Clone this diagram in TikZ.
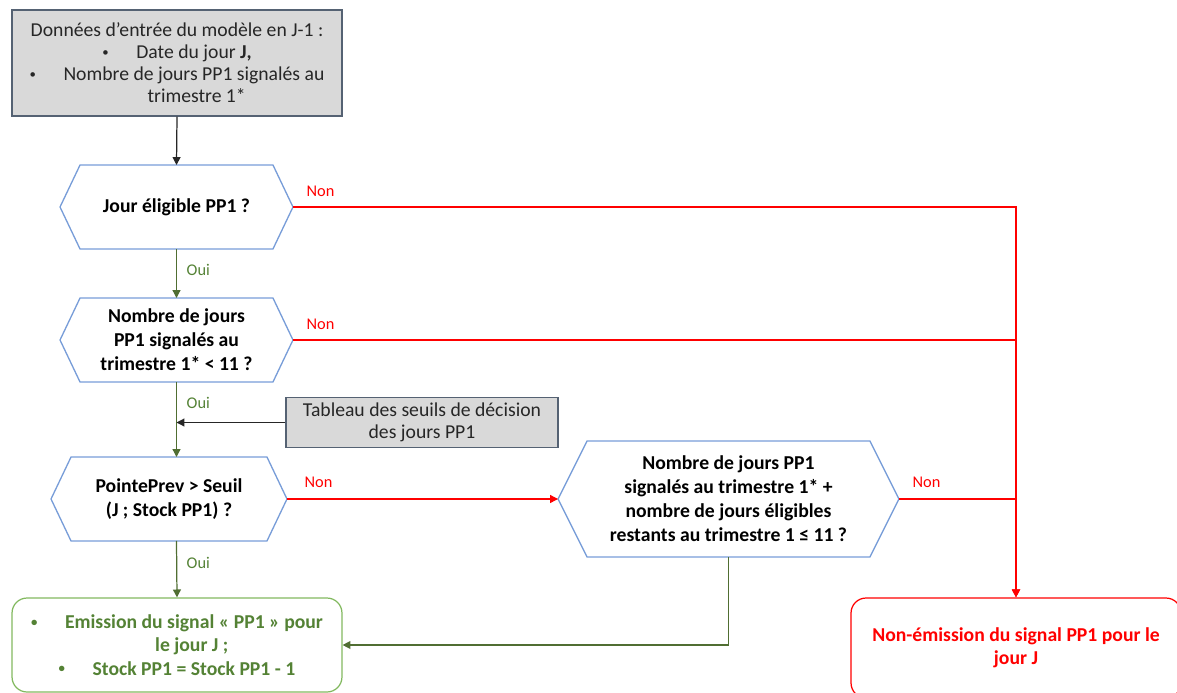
\documentclass[tikz,border=0pt]{standalone}
\usepackage{fontspec}
\setmainfont{Carlito}
\usetikzlibrary{arrows.meta,calc,positioning}
\definecolor{hxblue}{RGB}{120,157,216}
\definecolor{boxgray}{RGB}{217,217,217}
\definecolor{boxline}{RGB}{85,98,115}
\definecolor{okgreen}{RGB}{84,130,53}
\definecolor{okline}{RGB}{130,185,95}
\definecolor{arrgreen}{RGB}{80,110,50}
\definecolor{koRed}{RGB}{255,0,0}
\newcommand{\pbul}{\raisebox{0.12em}{\scalebox{0.65}{•}}}
\begin{document}
\begin{tikzpicture}[x=0.02cm, y=-0.02cm,
  gb/.style={draw=boxline, fill=boxgray, line width=0.7pt, align=center, text=black!85,
    font=\fontsize{11.2}{12.5}\selectfont},
  hx/.style={draw=none, outer sep=0pt, align=center, minimum width=4.66cm, minimum height=1.68cm,
    font=\bfseries\fontsize{11.2}{13.6}\selectfont},
  rb/.style={draw, rounded corners=0.3cm, line width=0.7pt, align=center, minimum width=6.6cm,
    font=\bfseries\fontsize{11.2}{13.3}\selectfont},
  hl/.style={draw=hxblue, line width=0.75pt, line join=miter},
  arr/.style={-{Triangle[length=4.5pt,width=4.5pt]}},
  edK/.style={draw=black!85, line width=0.7pt},
  edY/.style={draw=arrgreen, line width=0.7pt},
  edN/.style={draw=koRed, line width=0.7pt},
  lbY/.style={anchor=west, text=okgreen, font=\fontsize{9.3}{10}\selectfont},
  lbN/.style={anchor=west, text=koRed, font=\fontsize{9.3}{10}\selectfont}]
\useasboundingbox (0,0) rectangle (1177,693);
% boxes and decisions
\node[gb, minimum width=6.6cm, minimum height=2.12cm] (inp) at (177,63)
  {Données d’entrée du modèle en J-1 :\\
   \pbul\hspace{1.4em}Date du jour \textbf{J,}\\
   \pbul\hspace{1.4em}Nombre de jours PP1 signalés au\\
   \hspace*{2em}trimestre 1*};
\node[hx] (q1) at (176.5,207) {Jour éligible PP1 ?};
\node[hx] (q2) at (176.5,340) {Nombre de jours\\PP1 signalés au\\trimestre 1* < 11 ?};
\node[gb, minimum width=5.44cm, minimum height=0.98cm] (tab) at (422,422.5)
  {Tableau des seuils de décision\\des jours PP1};
\node[hx, minimum width=4.72cm] (q3) at (169,499) {PointePrev > Seuil\\(J ; Stock PP1) ?};
\node[hx, minimum width=6.82cm, minimum height=2.32cm] (q4) at (728.5,499)
  {Nombre de jours PP1\\signalés au trimestre 1* +\\nombre de jours éligibles\\restants au trimestre 1 ≤ 11 ?};
\node[rb, draw=okline, text=okgreen, minimum height=1.88cm] (ok) at (177,645)
  {\pbul\hspace{1.4em}Emission du signal «~PP1~» pour\\
   \hspace*{1.5em}le jour J ;\\
   \pbul\hspace{1.4em}Stock PP1 = Stock PP1 - 1};
\node[rb, draw=koRed, text=koRed, minimum height=2cm] (ko) at (1016,648)
  {Non-émission du signal PP1 pour le\\jour J};
% hexagon outlines, tips cut in by \t
\foreach \n/\t in {q1/20, q2/20, q3/20, q4/29}
  \draw[hl] ($(\n.north west)+(\t,0)$) -- ($(\n.north east)+(-\t,0)$) -- (\n.east)
    -- ($(\n.south east)+(-\t,0)$) -- ($(\n.south west)+(\t,0)$) -- (\n.west) -- cycle;
% connectors
\coordinate (q3in) at (q2.south |- q3.north);
\coordinate (q3out) at (q2.south |- q3.south);
\coordinate (tabend) at (q2.south |- tab.west);
\draw[edK, arr] (inp.south) -- (q1.north);
\draw[edY, arr] (q1.south) -- (q2.north);
\draw[edY, arr] (q2.south) -- (q3in);
\draw[edK, arr] (tab.west) -- (tabend);
\draw[edY, arr] (q3out) -- (ok.north);
\draw[edY, arr] (q4.south) |- (ok.east);
\draw[edN, arr] (q1.east) -| (ko.north);
\draw[edN] (q2.east) -- (q2.east -| ko.north);
\draw[edN, arr] (q3.east) -- (q4.west);
\draw[edN, arr, line width=1.1pt] (q4.east) -| (ko.north);
% labels
\node[lbN] (n1) at ($(q1.east)+(7.5,-16)$) {Non};
\node[lbN] (n2) at ($(q2.east)+(7.5,-16)$) {Non};
\node[lbN] (n3) at ($(q3.east)+(11.5,-17)$) {Non};
\node[lbN] (n4) at ($(q4.east)+(7.5,-17)$) {Non};
\node[lbY] (y1) at ($(q1.south)+(4,21)$) {Oui};
\node[lbY] (y2) at ($(q2.south)+(4,21)$) {Oui};
\node[lbY] (y3) at ($(q3out)+(4,22)$) {Oui};
\end{tikzpicture}
\end{document}
